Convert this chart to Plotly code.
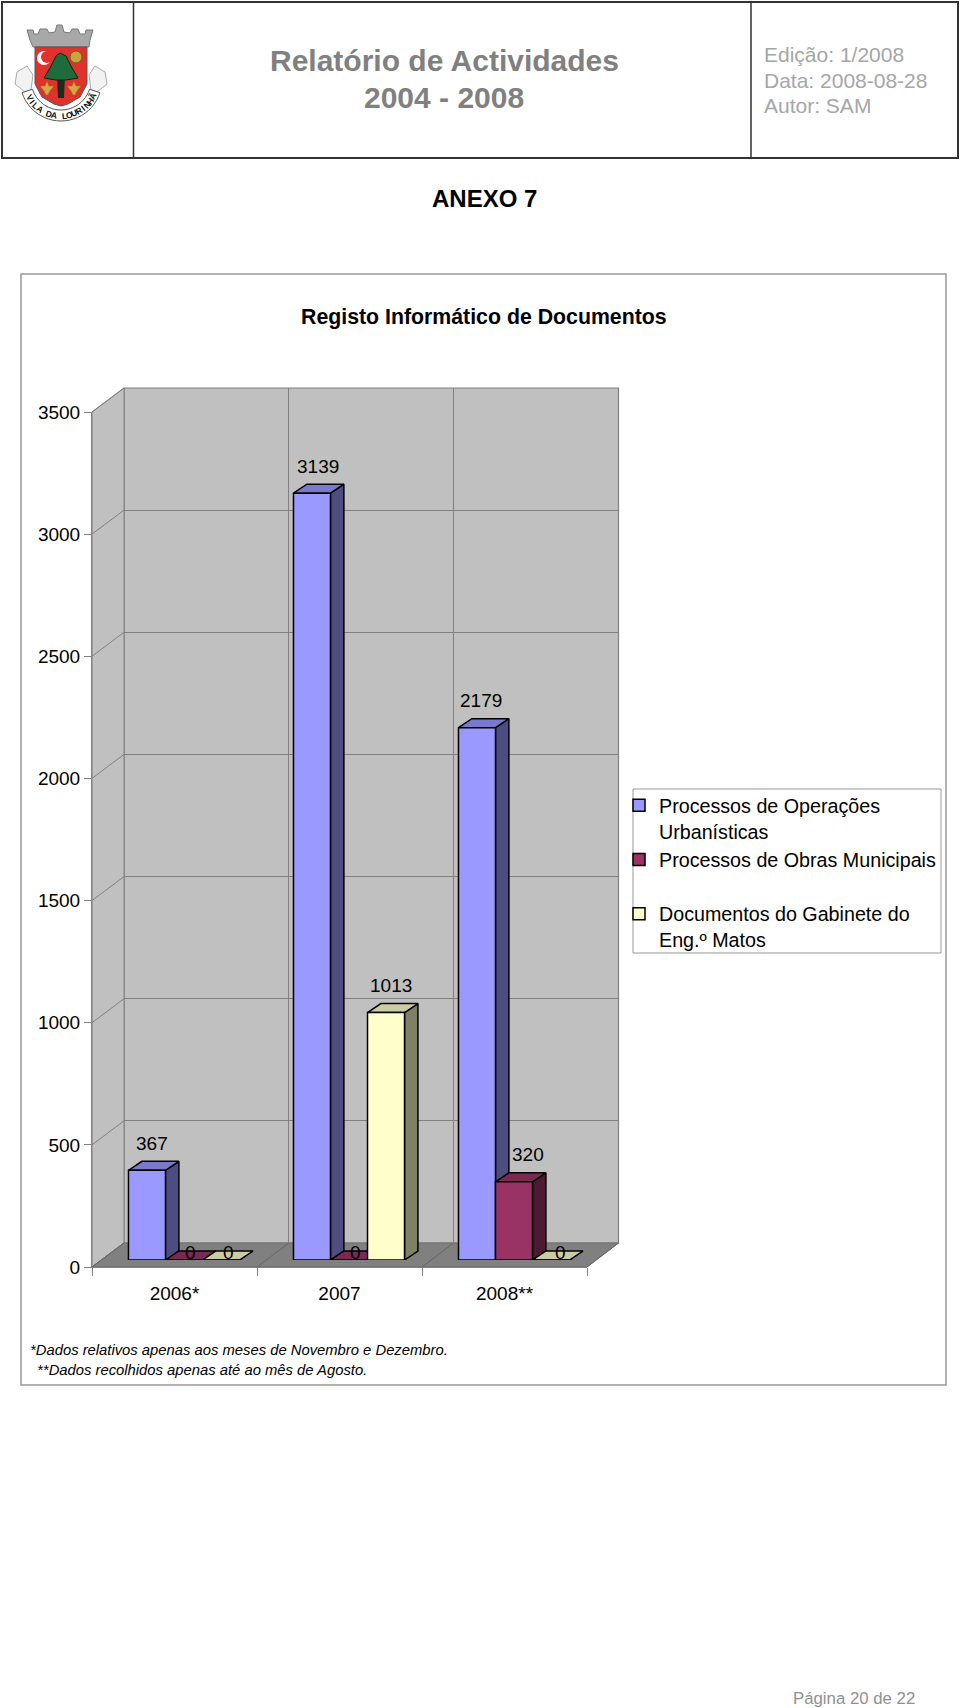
import math
import plotly.graph_objects as go

# ---------- data ----------
categories = ["2006*", "2007", "2008**"]
series_names = ["Processos de Operações<br>Urbanísticas",
                "Processos de Obras Municipais<br> ",
                "Documentos do Gabinete do<br>Eng.º Matos"]
operacoes = [367, 3139, 2179]
obras = [0, 0, 320]
gabinete = [0, 1013, 0]
y_ticks = [0, 500, 1000, 1500, 2000, 2500, 3000, 3500]
footnotes = ["*Dados relativos apenas aos meses de Novembro e Dezembro.",
             " **Dados recolhidos apenas até ao mês de Agosto."]

series_values = [operacoes, obras, gabinete]
front_colors = ["#9999FF", "#993366", "#FFFFCC"]
top_colors = ["#7A7ACC", "#7A2952", "#CCCCA3"]
side_colors = ["#4D4D80", "#4D1A33", "#808066"]

W, H = 960, 1708
FONT = "Liberation Sans"
GRID = "#808080"


def X(p):
    return p / W


def Y(p):
    return 1 - p / H


def dom_x(a, b):
    return [X(a), X(b)]


def dom_y(bottom, top):
    return [Y(bottom), Y(top)]


def path(points, close=True):
    s = "M " + " L ".join(f"{X(a):.5f},{Y(b):.5f}" for a, b in points)
    return s + (" Z" if close else "")


shapes = []
annotations = []


def poly(points, fill="rgba(0,0,0,0)", line="rgba(0,0,0,0)", width=1, close=True, layer="below"):
    shapes.append(dict(type="path", xref="paper", yref="paper", path=path(points, close),
                       fillcolor=fill, line=dict(color=line, width=width), layer=layer))


def label(text, x, y, size, color="#000000", bold=False, italic=False, anchor="center", xref="paper", yref="paper", yshift=0, xshift=0, angle=0):
    if bold:
        text = f"<b>{text}</b>"
    if italic:
        text = f"<i>{text}</i>"
    annotations.append(dict(text=text, x=X(x) if xref == "paper" else x, y=Y(y) if yref == "paper" else y,
                            xref=xref, yref=yref, xanchor=anchor, yanchor="middle", showarrow=False,
                            font=dict(family=FONT, size=size, color=color), yshift=yshift, xshift=xshift, textangle=angle,
                            borderpad=0, borderwidth=0))


# ---------- plane geometry (pixels) ----------
FRONT = dict(x0=92, x1=587, y0=1267, y1=412)
MID = dict(x0=101.5, x1=596.5, y0=1260, y1=405)
BACK = dict(x0=124, x1=618.5, y0=1243, y1=388)
YMAX = 3500
cat_px = (FRONT["x1"] - FRONT["x0"]) / len(categories)
back_cat_px = (BACK["x1"] - BACK["x0"]) / len(categories)
val_px = (FRONT["y0"] - FRONT["y1"]) / YMAX
DEPTH_X = 13.4 / cat_px
DEPTH_Y = 9 / val_px
BARGAP = 0.327
bar_w = (1 - BARGAP) / 3

# ---------- page furniture ----------
poly([(2, 2), (958, 2), (958, 158), (2, 158)], line="#333333", width=2)
poly([(133.5, 2), (133.5, 158)], line="#333333", width=1.5, close=False)
poly([(751, 2), (751, 158)], line="#333333", width=1.5, close=False)
poly([(21, 274), (946, 274), (946, 1385), (21, 1385)], line="#999999", width=1.5)

label("Relatório de Actividades", 444, 61, 30, "#808080", bold=True)
label("2004 - 2008", 444, 98, 30, "#808080", bold=True)
label("Edição: 1/2008", 764, 54, 21, "#A6A6A6", anchor="left")
label("Data: 2008-08-28", 764, 80, 21, "#A6A6A6", anchor="left")
label("Autor: SAM", 764, 106, 21, "#A6A6A6", anchor="left")
label("ANEXO 7", 484, 198, 24, bold=True)
label("Registo Informático de Documentos", 484, 317, 21.3, bold=True)
label(footnotes[0], 30, 1350, 14.8, italic=True, anchor="left")
label(footnotes[1], 33, 1370, 14.8, italic=True, anchor="left")
label("Página 20 de 22", 793, 1698, 16.8, "#909090", anchor="left")

# ---------- coat of arms ----------
for sign in (-1, 1):
    poly([(61 + sign * 28, 75), (61 + sign * 34, 66), (61 + sign * 44, 72), (61 + sign * 46, 84),
          (61 + sign * 36, 92), (61 + sign * 30, 90)], fill="#F2F2F2", line="#AAAAAA", width=1)
poly([(33, 47), (89, 47), (90, 40), (93, 30), (86, 30), (85, 34), (80, 34), (78, 29), (72, 29), (70, 33), (64, 32),
      (62, 25), (57, 25), (55, 32), (49, 33), (47, 29), (40, 29), (38, 34), (34, 34), (33, 30), (27, 30), (30, 40)],
     fill="#A8A8A8", line="#777777", width=1)
poly([(35, 47), (87, 47), (87, 84), (80, 97), (68, 104), (61, 106), (54, 104), (42, 97), (35, 84)],
     fill="#E0322C", line="#555555", width=1)
shapes.append(dict(type="circle", xref="paper", yref="paper", x0=X(37), x1=X(51), y0=Y(65), y1=Y(51),
                   fillcolor="#FFFFFF", line=dict(width=0), layer="below"))
shapes.append(dict(type="circle", xref="paper", yref="paper", x0=X(41), x1=X(53), y0=Y(63), y1=Y(51),
                   fillcolor="#E0322C", line=dict(width=0), layer="below"))
shapes.append(dict(type="circle", xref="paper", yref="paper", x0=X(70), x1=X(82), y0=Y(63), y1=Y(51),
                   fillcolor="#C9A23A", line=dict(color="#7A5A20", width=1), layer="below"))
poly([(57, 75), (65, 75), (64, 98), (58, 98)], fill="#1E2A1E")
poly([(60, 53), (66, 56), (72, 68), (78, 78), (66, 80), (56, 80), (44, 78), (50, 68), (56, 56)],
     fill="#1F6B3A", line="#102010", width=1)
for cx in (47, 74):
    poly([(cx, 81), (cx + 2, 86), (cx + 7, 86), (cx + 3, 91), (cx + 1, 95), (cx - 1, 95), (cx - 3, 91), (cx - 7, 86), (cx - 2, 86)],
         fill="#D9A441", line="#8A6A20", width=0.5)
arc_outer, arc_inner = [], []
for i in range(0, 25):
    ang = math.radians(-72 + 6 * i)
    arc_outer.append((61 + 41 * math.sin(ang), 80 + 41 * math.cos(ang)))
    arc_inner.append((61 + 30 * math.sin(ang), 80 + 30 * math.cos(ang)))
poly(arc_outer + arc_inner[::-1], fill="#FFFFFF", line="#555555", width=1)
motto = "VILA DA LOURINHÃ"
for i, ch in enumerate(motto):
    if ch == " ":
        continue
    theta = -61 + 124 * i / (len(motto) - 1)
    ang = math.radians(theta)
    label(ch, 61 + 36 * math.sin(ang), 80 + 36 * math.cos(ang), 8.5, "#111111", bold=True, angle=-theta)

# ---------- 3D chrome: walls, floor ----------
poly([(BACK["x0"], BACK["y1"]), (BACK["x1"], BACK["y1"]), (BACK["x1"], BACK["y0"]), (BACK["x0"], BACK["y0"])],
     fill="#C0C0C0", line=GRID, width=1.2)
poly([(FRONT["x0"], FRONT["y1"]), (BACK["x0"], BACK["y1"]), (BACK["x0"], BACK["y0"]), (FRONT["x0"], FRONT["y0"])],
     fill="#C0C0C0", line=GRID, width=1)
poly([(FRONT["x0"], FRONT["y0"]), (FRONT["x1"], FRONT["y0"]), (BACK["x1"], BACK["y0"]), (BACK["x0"], BACK["y0"])],
     fill="#808080", line="#707070", width=1)
for t in y_ticks:
    fy = FRONT["y0"] - t * val_px
    by = BACK["y0"] - t * val_px
    poly([(FRONT["x0"], fy), (BACK["x0"], by)], line=GRID, width=1, close=False)
for i in range(len(categories) + 1):
    fx = FRONT["x0"] + i * cat_px
    bx = BACK["x0"] + i * back_cat_px
    poly([(fx, FRONT["y0"]), (bx, BACK["y0"])], line="#666666", width=1, close=False)

fig = go.Figure()

# back plane: gridlines
fig.add_trace(go.Scatter(x=[0], y=[0], xaxis="x", yaxis="y", mode="markers", marker=dict(opacity=0),
                         hoverinfo="skip", showlegend=False))

# middle plane, behind the front faces: sides and tops of the bars
idx = list(range(len(categories)))
label_nudge = {(0, 0): -2, (0, 1): -1, (2, 1): -2, (0, 2): -3, (1, 2): 7, (2, 2): 3, (2, 0): 1}
for s, vals in enumerate(series_values):
    side_x, side_y, top_x, top_y = [], [], [], []
    for i, v in zip(idx, vals):
        left = i - (1 - BARGAP) / 2 + s * bar_w
        right = left + bar_w
        side_x += [right, right + DEPTH_X, right + DEPTH_X, right, right, None]
        side_y += [0, DEPTH_Y, v + DEPTH_Y, v, 0, None]
        top_x += [left, right, right + DEPTH_X, left + DEPTH_X, left, None]
        top_y += [v, v, v + DEPTH_Y, v + DEPTH_Y, v, None]
        label(str(v), i - (1 - BARGAP) / 2 + (s + 0.5) * bar_w + DEPTH_X / 2, v + DEPTH_Y, 19,
              xref="x2", yref="y2", yshift=18 if v else -1, xshift=label_nudge.get((s, i), 0))
    fig.add_trace(go.Scatter(x=side_x, y=side_y, xaxis="x2", yaxis="y2", mode="lines", fill="toself",
                             fillcolor=side_colors[s], line=dict(color="#000000", width=1.5),
                             hoverinfo="skip", showlegend=False))
    fig.add_trace(go.Scatter(x=top_x, y=top_y, xaxis="x2", yaxis="y2", mode="lines", fill="toself",
                             fillcolor=top_colors[s], line=dict(color="#000000", width=1.5),
                             hoverinfo="skip", showlegend=False))

# middle plane: front faces of the bars
for s, vals in enumerate(series_values):
    fig.add_trace(go.Bar(x=idx, y=vals, name=series_names[s], xaxis="x3", yaxis="y3",
                         marker=dict(color=front_colors[s], line=dict(color="#000000", width=1.5))))

# front plane: the axes that carry ticks and labels
fig.add_trace(go.Scatter(x=categories, y=[0, 0, 0], xaxis="x4", yaxis="y4", mode="markers",
                         marker=dict(opacity=0), hoverinfo="skip", showlegend=False))

# legend box
poly([(633, 789), (941, 789), (941, 953), (633, 953)], fill="#FFFFFF", line="#999999", width=1)

hidden = dict(visible=False)
fig.update_layout(
    width=W, height=H, margin=dict(l=0, r=0, t=0, b=0, pad=0, autoexpand=False),
    paper_bgcolor="#FFFFFF", plot_bgcolor="rgba(0,0,0,0)",
    font=dict(family=FONT, size=19, color="#000000"),
    barmode="group", bargap=BARGAP, bargroupgap=0,
    shapes=shapes, annotations=annotations,
    xaxis=dict(domain=dom_x(BACK["x0"], BACK["x1"]), range=[-0.5, 2.5], anchor="y",
               tickmode="array", tickvals=[0.5, 1.5], showticklabels=False, ticks="",
               showgrid=True, gridcolor=GRID, gridwidth=1, zeroline=False, showline=False),
    yaxis=dict(domain=dom_y(BACK["y0"], BACK["y1"]), range=[0, YMAX], anchor="x",
               tickmode="array", tickvals=y_ticks, showticklabels=False, ticks="",
               showgrid=True, gridcolor=GRID, gridwidth=1, zeroline=False, showline=False),
    xaxis2=dict(domain=dom_x(MID["x0"], MID["x1"]), range=[-0.5, 2.5], anchor="y2", **hidden),
    yaxis2=dict(domain=dom_y(MID["y0"], MID["y1"]), range=[0, YMAX], anchor="x2", **hidden),
    xaxis3=dict(domain=dom_x(MID["x0"], MID["x1"]), range=[-0.5, 2.5], anchor="y3", **hidden),
    yaxis3=dict(domain=dom_y(MID["y0"], MID["y1"]), range=[0, YMAX], anchor="x3", **hidden),
    xaxis4=dict(domain=dom_x(FRONT["x0"], FRONT["x1"]), type="category", categoryorder="array",
                categoryarray=categories, range=[-0.5, 2.5], anchor="y4", tickson="boundaries", ticks="outside", ticklen=8,
                tickcolor=GRID, tickwidth=1, showline=True, linecolor=GRID, linewidth=1, showgrid=False,
                zeroline=False, tickfont=dict(family=FONT, size=19), ticklabelstandoff=9),
    yaxis4=dict(domain=dom_y(FRONT["y0"], FRONT["y1"]), range=[0, YMAX], anchor="x4",
                tickmode="array", tickvals=y_ticks, ticks="outside", ticklen=7, tickcolor=GRID, tickwidth=1,
                showline=True, linecolor=GRID, linewidth=1, showgrid=False, zeroline=False,
                tickfont=dict(family=FONT, size=19)),
    showlegend=True,
    legend=dict(x=X(619), y=Y(786), xanchor="left", yanchor="top", bgcolor="rgba(0,0,0,0)", borderwidth=0,
                font=dict(family=FONT, size=19.7), valign="top", traceorder="normal", tracegroupgap=0,
                itemclick=False, itemdoubleclick=False),
)

fig.write_html("out.html", config=dict(displayModeBar=False),
               post_script="document.body.style.margin='0';")
